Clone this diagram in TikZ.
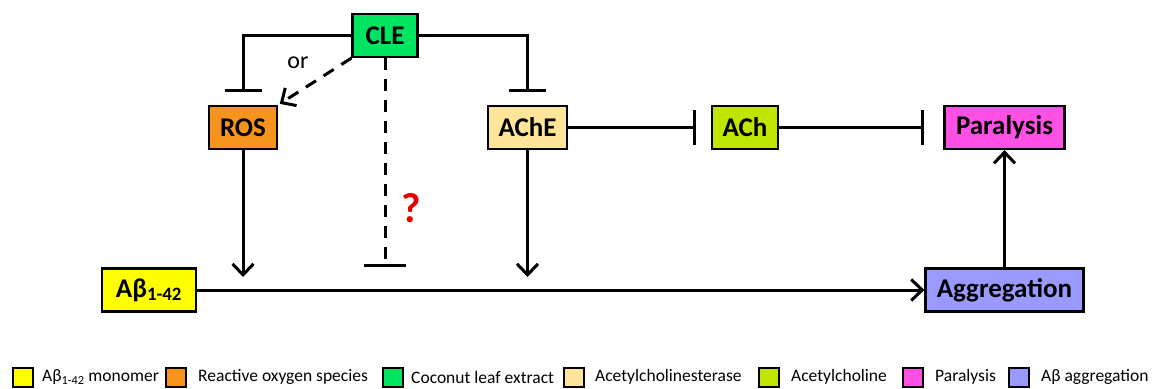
\documentclass[tikz,border=0pt]{standalone}
\usepackage{fontspec}
\setmainfont{Carlito}
\usetikzlibrary{arrows.meta, positioning}

\definecolor{abyellow}{RGB}{255,255,0}
\definecolor{rosorange}{RGB}{247,148,30}
\definecolor{clegreen}{RGB}{0,228,98}
\definecolor{acheyellow}{RGB}{255,229,153}
\definecolor{achgreen}{RGB}{190,230,0}
\definecolor{parpink}{RGB}{255,80,230}
\definecolor{aggblue}{RGB}{153,153,255}
\definecolor{qred}{RGB}{230,0,0}

\begin{document}
\begin{tikzpicture}[x=1pt, y=-1pt,
    box/.style={draw, line width=2.2pt, minimum height=43pt, inner sep=0pt,
                font=\fontsize{27}{30}\selectfont\bfseries},
    act/.style={line width=3pt, -{Straight Barb[length=11pt, width=21pt]}},
    inh/.style={line width=3pt, -{Bar[width=37pt]}, shorten >=13pt},
    dashln/.style={line width=3pt, dash pattern=on 12pt off 9pt},
    key/.style={draw, line width=2pt, minimum width=20pt, minimum height=19pt, inner sep=0pt},
    keytext/.style={anchor=west, inner sep=0pt, font=\fontsize{17.5}{20}\selectfont}]
    \useasboundingbox (0,0) rectangle (1153,388);

    % boxes
    \node[box, fill=clegreen, minimum width=65pt] (cle) at (385,35.5) {CLE};
    \node[box, fill=rosorange, minimum width=68pt] (ros) at (243,127.5) {ROS};
    \node[box, fill=acheyellow, minimum width=79pt] (ache) at (527.5,127.5) {AChE};
    \node[box, fill=achgreen, minimum width=66pt] (ach) at (745,127.5) {ACh};
    \node[box, fill=parpink, minimum width=120pt] (par) at (1004.5,127.5) {Paralysis};
    \node[box, fill=abyellow, minimum width=94pt] (abeta) at (149,290) {Aβ\textsubscript{1-42}};
    \node[box, fill=aggblue, minimum width=158pt] (agg) at (1004.5,290) {Aggregation};

    % CLE links
    \draw[inh] (cle.west) -| (ros.north);
    \draw[inh] (cle.east) -| (ache.north);
    \draw[dashln, act, shorten >=2pt] (cle.south west) -- (ros.north east);
    \node[font=\fontsize{24}{27}\selectfont] (or) at (298,63) {or};
    \coordinate (qend) at (385,267);
    \draw[dashln, -{Bar[width=42pt]}] (cle.south) -- (qend);
    \node[text=qred, font=\fontsize{42}{46}\selectfont\bfseries] (q) at (411,208) {?};

    % pathway
    \coordinate (rosin) at (243,277);
    \coordinate (achein) at (527.5,277);
    \draw[act] (ros.south) -- (rosin);
    \draw[act] (ache.south) -- (achein);
    \draw[act] (abeta.east) -- (agg.west);
    \draw[act] (agg.north) -- (par.south);
    \draw[inh, -{Bar[width=35pt]}, shorten >=15pt] (ache.east) -- (ach.west);
    \draw[inh, -{Bar[width=35pt]}, shorten >=19pt] (ach.east) -- (par.west);

    % legend
    \foreach \sx/\tx/\col/\lab [count=\i] in {
        12/42/abyellow/{Aβ\textsubscript{1-42} monomer},
        165/198/rosorange/{Reactive oxygen species},
        382/411/clegreen/{Coconut leaf extract},
        563/595/acheyellow/{Acetylcholinesterase},
        758/791/achgreen/{Acetylcholine},
        902/935/parpink/{Paralysis},
        1008/1041/aggblue/{Aβ aggregation}} {
      \node[key, fill=\col] (key\i) at (\sx+11,377) {};
      \node[keytext] (keytext\i) at (\tx,377) {\lab};
    }
\end{tikzpicture}
\end{document}
